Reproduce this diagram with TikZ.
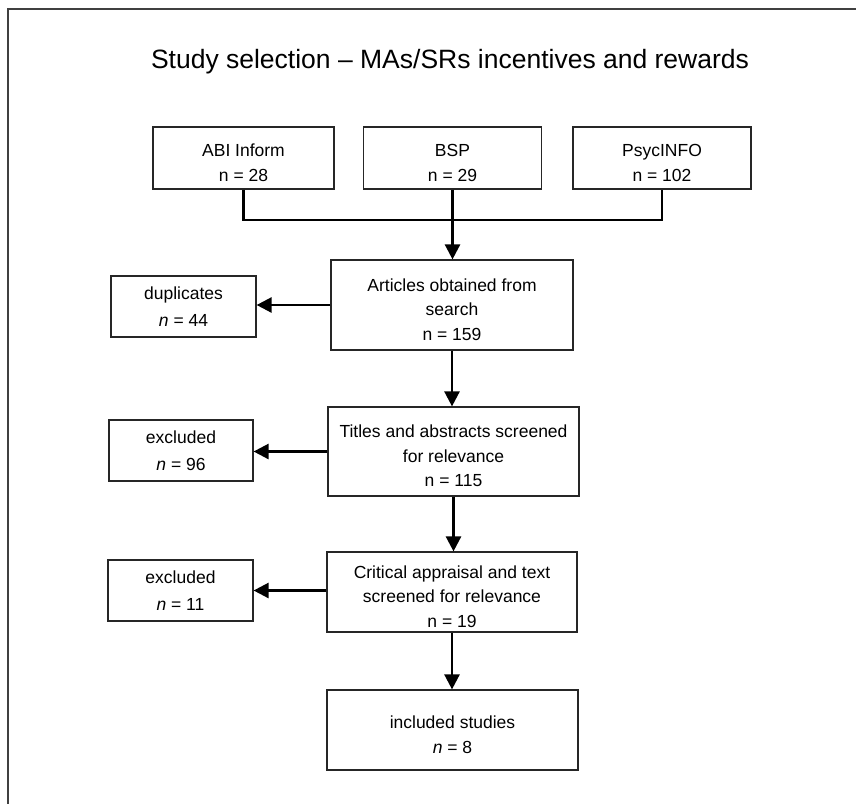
\documentclass[tikz,border=0pt]{standalone}
\usepackage{fontspec}
\setmainfont{Liberation Sans}
\usetikzlibrary{arrows.meta}
\newcommand\mystrut{\rule{0pt}{22pt}}
\begin{document}
\begin{tikzpicture}[x=1pt,y=-1pt,
  box/.style={draw=black!85, line width=1.2pt, rectangle, inner sep=0pt, align=center,
    font=\fontsize{17.5}{24.5}\selectfont},
  sidebox/.style={box, font=\fontsize{17.5}{27}\selectfont},
  arr/.style={line width=2.5pt, -{Triangle[length=15pt,width=15pt]}},
  conn/.style={line width=2.5pt}]
\useasboundingbox (0,0) rectangle (856,804);
\draw[line width=1.6pt, black!75] (856,9) -- (8,9) -- (8,804);
\node (title) at (450,62) {\fontsize{26.5}{30}\selectfont Study selection -- MAs/SRs incentives and rewards};
\node[box, minimum width=181pt, minimum height=62pt] (abi) at (243.5,158) {\mystrut ABI Inform\\n = 28};
\node[box, minimum width=178pt, minimum height=62pt] (bsp) at (452.5,158) {\mystrut BSP\\n = 29};
\node[box, minimum width=178pt, minimum height=62pt] (psy) at (662,158) {\mystrut PsycINFO\\n = 102};
\node[box, minimum width=242pt, minimum height=90pt] (art) at (452,305) {\mystrut Articles obtained from\\search\\n = 159};
\node[sidebox, minimum width=145pt, minimum height=61pt] (dup) at (183.5,306.5) {duplicates\\\textit{n} = 44};
\node[box, minimum width=251pt, minimum height=89pt] (tit) at (453.5,451.5) {\mystrut Titles and abstracts screened\\for relevance\\n = 115};
\node[sidebox, minimum width=144pt, minimum height=61pt] (ex96) at (181,450.5) {excluded\\\textit{n} = 96};
\node[box, minimum width=250pt, minimum height=80pt] (crit) at (452,592) {\mystrut Critical appraisal and text\\screened for relevance\\n = 19};
\node[sidebox, minimum width=145pt, minimum height=61pt] (ex11) at (180.5,590.5) {excluded\\\textit{n} = 11};
\node[box, minimum width=251pt, minimum height=80pt] (inc) at (452.5,730) {\mystrut included studies\\\textit{n} = 8};
\coordinate (j) at (452,220);
\draw[conn] (abi.south) -- (abi.south |- j) -- (psy.south |- j) -- (psy.south);
\draw[arr] (bsp.south) -- (bsp.south |- art.north);
\draw[arr] (art.west) -- (art.west -| dup.east);
\draw[arr] (art.south) -- (art.south |- tit.north);
\draw[arr] (tit.west) -- (tit.west -| ex96.east);
\draw[arr] (tit.south) -- (tit.south |- crit.north);
\draw[arr] (crit.west |- ex11.east) -- (ex11.east);
\draw[arr] (crit.south) -- (crit.south |- inc.north);
\end{tikzpicture}
\end{document}
